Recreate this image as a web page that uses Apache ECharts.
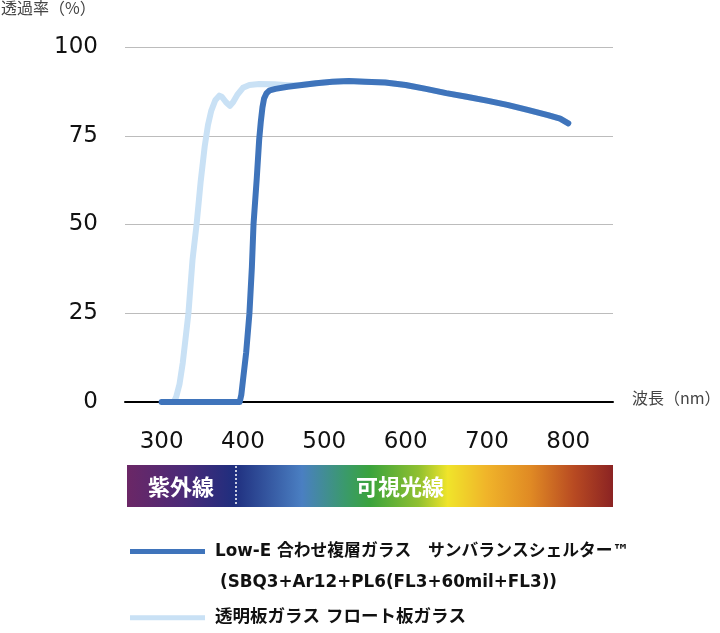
<!DOCTYPE html>
<html>
<head>
<meta charset="utf-8">
<script src="https://cdn.jsdelivr.net/npm/echarts@6/dist/echarts.min.js"></script>
<style>
html,body{margin:0;padding:0;background:#fff;}
#chart{width:720px;height:633px;}
</style>
</head>
<body>
<div id="chart"></div>
<script>
// ---- data ----
const xTickLabels = [300, 400, 500, 600, 700, 800];
const yTickLabels = [0, 25, 50, 75, 100];

const lowEName = 'Low-E 合わせ複層ガラス　サンバランスシェルター™';
const lowESub = '(SBQ3+Ar12+PL6(FL3+60mil+FL3))';
const lowEWave = [300, 330, 360, 390, 396, 398, 400, 404, 408, 411, 413, 417, 420, 422, 424, 426, 429, 433, 440, 455, 470, 490, 510, 530, 550, 575, 600, 625, 650, 675, 700, 725, 750, 775, 790, 800];
const lowEVal  = [0, 0, 0, 0, 0, 2, 6, 14, 25, 38, 50, 63, 74, 79, 83, 85.5, 87, 87.8, 88.2, 88.8, 89.2, 89.8, 90.2, 90.4, 90.2, 90, 89.3, 88.2, 87, 86, 84.9, 83.7, 82.3, 80.8, 79.8, 78.5];

const floatName = '透明板ガラス フロート板ガラス';
const floatWave = [315, 318, 322, 326, 330, 333, 338, 343, 348, 353, 357, 361, 366, 371, 374, 379, 384, 388, 393, 400, 408, 420, 439, 455, 470, 490, 510, 530, 550, 575, 600, 625, 650, 675, 700, 725, 750, 775, 790, 800];
const floatVal  = [0, 1.5, 5, 11, 19, 25, 40, 50, 62, 72, 78, 82, 85, 86.3, 86, 84.5, 83.4, 84.5, 86.5, 88.5, 89.3, 89.6, 89.5, 89.2, 89.3, 89.8, 90.2, 90.4, 90.2, 90, 89.3, 88.2, 87, 86, 84.9, 83.7, 82.3, 80.8, 79.8, 78.5];

const yAxisTitle = '透過率（%）';
const xAxisTitle = '波長（nm）';
const uvLabel = '紫外線';
const visLabel = '可視光線';

function pairs(xs, ys) { return xs.map((x, i) => [x, ys[i]]); }

const chart = echarts.init(document.getElementById('chart'), null, {renderer: 'canvas'});

const legendFont = "'DejaVu Sans', 'Noto Sans CJK JP'";

const spectrumStops = [
  {offset: 0.00, color: '#6b2766'},
  {offset: 0.12, color: '#4a2a78'},
  {offset: 0.22, color: '#1f2e7e'},
  {offset: 0.36, color: '#4a7fc2'},
  {offset: 0.45, color: '#3a9a6a'},
  {offset: 0.50, color: '#3aa33c'},
  {offset: 0.60, color: '#90c030'},
  {offset: 0.66, color: '#f0e42a'},
  {offset: 0.74, color: '#f0b42a'},
  {offset: 0.83, color: '#e08a24'},
  {offset: 0.92, color: '#b84a22'},
  {offset: 1.00, color: '#8b2323'}
];

const option = {
  backgroundColor: '#fff',
  animation: false,
  grid: {left: 125, right: 107, top: 47, bottom: 231, containLabel: false},
  xAxis: {
    type: 'value', min: 255, max: 855,
    axisLine: {show: true, lineStyle: {color: '#000', width: 2}},
    axisTick: {show: false},
    splitLine: {show: false},
    axisLabel: {
      customValues: xTickLabels,
      margin: 29, color: '#111', fontSize: 23, fontFamily: 'DejaVu Sans'
    }
  },
  yAxis: {
    type: 'value', min: 0, max: 100, interval: 25,
    axisLine: {show: false}, axisTick: {show: false},
    splitLine: {lineStyle: {color: '#bcbcbc', width: 1}},
    axisLabel: {margin: 27, color: '#111', fontSize: 23, fontFamily: 'DejaVu Sans'}
  },
  legend: [
    {
      data: [lowEName], left: 125, top: 538, orient: 'vertical',
      icon: 'rect', itemWidth: 75, itemHeight: 5,
      textStyle: {fontSize: 16.8, fontWeight: 'bold', color: '#111', fontFamily: legendFont, padding: [0, 0, 0, 5]},
      selectedMode: false
    },
    {
      data: [floatName], left: 125, top: 604, orient: 'vertical',
      icon: 'rect', itemWidth: 75, itemHeight: 5,
      textStyle: {fontSize: 17.5, fontWeight: 'bold', color: '#111', fontFamily: legendFont, padding: [0, 0, 0, 5]},
      selectedMode: false
    }
  ],
  series: [
    {
      name: floatName, type: 'line', data: pairs(floatWave, floatVal),
      showSymbol: false, smooth: false, z: 2,
      color: '#c9e1f5',
      lineStyle: {color: '#c9e1f5', width: 6, cap: 'round', join: 'round'}
    },
    {
      name: lowEName, type: 'line', data: pairs(lowEWave, lowEVal),
      showSymbol: false, smooth: false, z: 3,
      color: '#3f74bb',
      lineStyle: {color: '#3f74bb', width: 6, cap: 'round', join: 'round'}
    }
  ],
  graphic: [
    {type: 'text', left: 1, top: 0, style: {text: yAxisTitle, fontSize: 16, fill: '#444', fontFamily: 'Noto Sans CJK JP'}},
    {type: 'text', left: 632, top: 390, style: {text: xAxisTitle, fontSize: 16, fill: '#444', fontFamily: 'Noto Sans CJK JP'}},
    {type: 'rect', shape: {x: 127, y: 465, width: 486, height: 42},
     style: {fill: new echarts.graphic.LinearGradient(0, 0, 1, 0, spectrumStops)}},
    {type: 'line', shape: {x1: 236, y1: 466, x2: 236, y2: 506},
     style: {stroke: '#fff', lineWidth: 1.5, lineDash: [2, 2]}},
    {type: 'text', x: 181, y: 487, style: {text: uvLabel, fontSize: 22, fontWeight: 'bold', fill: '#fff', align: 'center', verticalAlign: 'middle', fontFamily: 'Noto Sans CJK JP'}},
    {type: 'text', x: 400, y: 487, style: {text: visLabel, fontSize: 22, fontWeight: 'bold', fill: '#fff', align: 'center', verticalAlign: 'middle', fontFamily: 'Noto Sans CJK JP'}},
    {type: 'text', x: 220, y: 583, style: {text: lowESub, fontSize: 16.8, fontWeight: 'bold', fill: '#111', verticalAlign: 'middle', fontFamily: legendFont}}
  ]
};
chart.setOption(option);
</script>
</body>
</html>
